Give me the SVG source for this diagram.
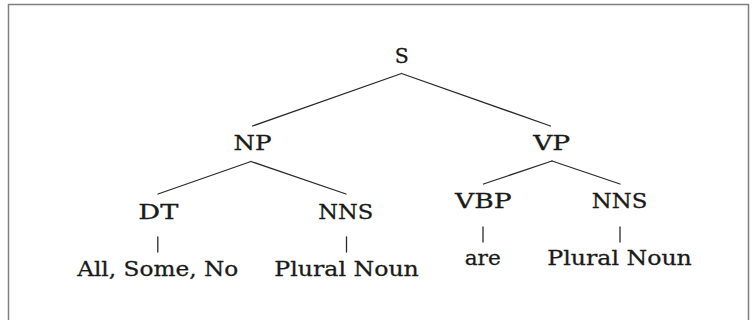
<svg xmlns="http://www.w3.org/2000/svg" width="755" height="320" viewBox="0 0 755 320">
<style>
.lbl{font-family:"DejaVu Serif",serif;font-size:20px;fill:#1a1a1a;stroke:#1a1a1a;stroke-width:0.3;text-anchor:middle}
.edge{stroke:#2a2a2a;stroke-width:1.3;fill:none;stroke-linecap:round}
.frame{fill:none;stroke:#808080;stroke-width:1.5}
</style>
<rect width="755" height="320" fill="#ffffff"/>
<path class="frame" d="M8.5,330 V4.5 H748.5 V330"/>
<g id="connectors">
<line class="edge" x1="401.5" y1="73.5" x2="252.5" y2="126"/>
<line class="edge" x1="401.5" y1="73.5" x2="550.5" y2="126"/>
<line class="edge" x1="251" y1="161.5" x2="158" y2="194"/>
<line class="edge" x1="251" y1="161.5" x2="346" y2="194"/>
<line class="edge" x1="552" y1="161" x2="483.5" y2="184"/>
<line class="edge" x1="552" y1="161" x2="620" y2="184"/>
<line class="edge" x1="157.8" y1="237" x2="157.8" y2="252"/>
<line class="edge" x1="346.5" y1="237" x2="346.5" y2="252"/>
<line class="edge" x1="483" y1="227" x2="483" y2="242"/>
<line class="edge" x1="620" y1="227" x2="620" y2="242"/>
</g>
<g id="node-S"><text class="lbl" x="401.7" y="63.3" textLength="14" lengthAdjust="spacingAndGlyphs">S</text></g>
<g id="node-NP"><text class="lbl" x="252.5" y="150" textLength="38" lengthAdjust="spacingAndGlyphs">NP</text></g>
<g id="node-VP"><text class="lbl" x="551.7" y="150" textLength="37" lengthAdjust="spacingAndGlyphs">VP</text></g>
<g id="node-DT"><text class="lbl" x="158.3" y="219.3" textLength="40" lengthAdjust="spacingAndGlyphs">DT</text></g>
<g id="node-NNS1"><text class="lbl" x="345.8" y="218.5" textLength="55" lengthAdjust="spacingAndGlyphs">NNS</text></g>
<g id="node-VBP"><text class="lbl" x="483.3" y="208.3" textLength="56.5" lengthAdjust="spacingAndGlyphs">VBP</text></g>
<g id="node-NNS2"><text class="lbl" x="619.5" y="208.3" textLength="55.5" lengthAdjust="spacingAndGlyphs">NNS</text></g>
<g id="leaf-DT"><text class="lbl" x="157.7" y="276" textLength="161" lengthAdjust="spacingAndGlyphs">All, Some, No</text></g>
<g id="leaf-NNS1"><text class="lbl" x="346.6" y="276" textLength="144.5" lengthAdjust="spacingAndGlyphs">Plural Noun</text></g>
<g id="leaf-VBP"><text class="lbl" x="482.7" y="265" textLength="36" lengthAdjust="spacingAndGlyphs">are</text></g>
<g id="leaf-NNS2"><text class="lbl" x="619.6" y="265" textLength="144.5" lengthAdjust="spacingAndGlyphs">Plural Noun</text></g>
</svg>
